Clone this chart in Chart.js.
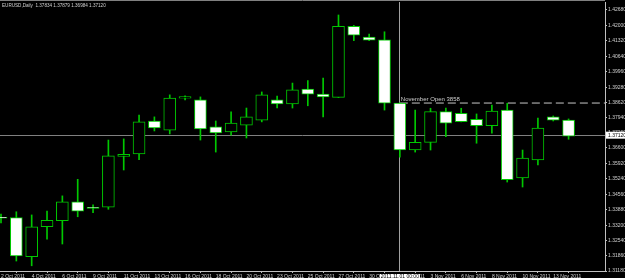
<!DOCTYPE html>
<html>
<head>
<meta charset="utf-8">
<script src="https://cdn.jsdelivr.net/npm/chart.js@4.4.0/dist/chart.umd.min.js"></script>
<style>
  html, body { margin: 0; padding: 0; background: #000; }
  #wrap { position: relative; width: 625px; height: 278px; }
</style>
</head>
<body>
<div id="wrap"><canvas id="chart"></canvas></div>
<script>
// EURUSD daily candles
const title = 'EURUSD,Daily  1.37834 1.37879 1.36984 1.37120';

const dates = [
    '2 Oct 2011', '3 Oct 2011', '4 Oct 2011', '5 Oct 2011', '6 Oct 2011', '7 Oct 2011',
    '9 Oct 2011', '10 Oct 2011', '11 Oct 2011', '12 Oct 2011', '13 Oct 2011', '14 Oct 2011',
    '16 Oct 2011', '17 Oct 2011', '18 Oct 2011', '19 Oct 2011', '20 Oct 2011', '21 Oct 2011',
    '23 Oct 2011', '24 Oct 2011', '25 Oct 2011', '26 Oct 2011', '27 Oct 2011', '28 Oct 2011',
    '30 Oct 2011', '31 Oct 2011', '1 Nov 2011', '2 Nov 2011', '3 Nov 2011', '4 Nov 2011',
    '6 Nov 2011', '7 Nov 2011', '8 Nov 2011', '9 Nov 2011', '10 Nov 2011', '11 Nov 2011',
    '13 Nov 2011', '14 Nov 2011'
];
const opens = [
    1.3355, 1.3353, 1.3181, 1.3313, 1.3340, 1.3423,
    1.3399, 1.3399, 1.3623, 1.3634, 1.3779, 1.3739,
    1.3880, 1.3872, 1.3753, 1.3731, 1.3761, 1.3783,
    1.3872, 1.3854, 1.3920, 1.3897, 1.3883, 1.4196,
    1.4149, 1.4136, 1.3858, 1.3651, 1.3685, 1.3820,
    1.3813, 1.3786, 1.3758, 1.3827, 1.3528, 1.3607,
    1.3797, 1.37834
];
const highs = [
    1.3369, 1.3379, 1.3365, 1.3382, 1.3449, 1.3522,
    1.3409, 1.3695, 1.3700, 1.3805, 1.3797, 1.3894,
    1.3890, 1.3885, 1.3779, 1.3819, 1.3836, 1.3907,
    1.3889, 1.3946, 1.3957, 1.3968, 1.4246, 1.4200,
    1.4162, 1.4172, 1.3859, 1.3827, 1.3835, 1.3836,
    1.3835, 1.3810, 1.3849, 1.3857, 1.3651, 1.3792,
    1.3801, 1.37879
];
const lows = [
    1.3330, 1.3162, 1.3141, 1.3258, 1.3237, 1.3357,
    1.3375, 1.3390, 1.3563, 1.3608, 1.3735, 1.3722,
    1.3872, 1.3695, 1.3642, 1.3717, 1.3704, 1.3775,
    1.3836, 1.3836, 1.3846, 1.3797, 1.3882, 1.4133,
    1.4133, 1.3827, 1.3620, 1.3642, 1.3651, 1.3710,
    1.3775, 1.3681, 1.3725, 1.3510, 1.3488, 1.3585,
    1.3779, 1.36984
];
const closes = [
    1.3351, 1.3184, 1.3313, 1.3341, 1.3423, 1.3382,
    1.3394, 1.3625, 1.3632, 1.3775, 1.3748, 1.3880,
    1.3886, 1.3744, 1.3726, 1.3770, 1.3797, 1.3894,
    1.3854, 1.3916, 1.3897, 1.3885, 1.4196, 1.4157,
    1.4135, 1.3857, 1.3651, 1.3685, 1.3820, 1.3769,
    1.3776, 1.3758, 1.3823, 1.3520, 1.3616, 1.3748,
    1.3783, 1.37120
];

const priceTicks = [
    1.42680, 1.42000, 1.41320, 1.40640, 1.39960, 1.39280, 1.38620, 1.37940, 1.37260,
    1.36600, 1.35920, 1.35240, 1.34560, 1.33880, 1.33200, 1.32540, 1.31860, 1.31180
];

const novOpen = 1.3858;
const novOpenLabel = 'November Open 3858';
const crossIndex = 26;
const crossLabel = '2011.11.01 00:00';

const green = '#00c800';
const axisGrey = '#c0c0c0';
const textGrey = '#d0d0d0';
const tinyFont = { family: 'Liberation Sans', size: 5 };

const bodies = dates.map((d, i) => ({ x: i, y: [opens[i], closes[i]] }));
const wicks = dates.map((d, i) => ({ x: i, y: [lows[i], highs[i]] }));
const lastClose = closes[closes.length - 1];

// extra drawing MT4 puts on top: header, bid line, crosshair, object label
const overlay = {
    id: 'overlay',
    beforeDatasetsDraw(chart) {
        const { ctx, chartArea: a, scales: { x, y } } = chart;
        ctx.save();
        ctx.lineWidth = 1;
        ctx.strokeStyle = '#808080';
        ctx.beginPath();
        ctx.moveTo(0, 0.5);
        ctx.lineTo(a.right, 0.5);
        const by = Math.round(y.getPixelForValue(lastClose)) - 0.5;
        ctx.moveTo(a.left, by);
        ctx.lineTo(a.right, by);
        ctx.stroke();
        ctx.strokeStyle = '#a0a0a0';
        const cx = Math.round(x.getPixelForValue(crossIndex)) - 0.5;
        ctx.beginPath();
        ctx.moveTo(cx, a.top);
        ctx.lineTo(cx, a.bottom);
        ctx.stroke();
        ctx.restore();
    },
    afterDraw(chart) {
        const { ctx, chartArea: a, scales: { x, y } } = chart;
        ctx.save();
        ctx.fillStyle = textGrey;
        ctx.font = '4.6px "Liberation Sans"';
        ctx.textBaseline = 'top';
        ctx.fillText(title, 2, 3.5);

        const cx = x.getPixelForValue(crossIndex);
        ctx.font = '6px "Liberation Sans"';
        ctx.textBaseline = 'alphabetic';
        ctx.fillStyle = textGrey;
        ctx.fillText(novOpenLabel, cx + 1, y.getPixelForValue(novOpen) - 2.5);

        // price marker on the axis
        ctx.font = '5px "Liberation Sans"';
        const py = y.getPixelForValue(lastClose) - 1;
        ctx.fillStyle = '#fff';
        ctx.fillRect(a.right + 1, py - 3.5, 19, 7);
        ctx.fillStyle = '#000';
        ctx.textBaseline = 'middle';
        ctx.fillText(lastClose.toFixed(5), a.right + 3, py);

        // crosshair time marker
        const w = ctx.measureText(crossLabel).width + 2;
        ctx.fillStyle = '#fff';
        ctx.fillRect(cx - w / 2, a.bottom + 3, w, 8);
        ctx.fillStyle = '#000';
        ctx.textBaseline = 'top';
        ctx.fillText(crossLabel, cx - w / 2 + 1, a.bottom + 3.5);
        ctx.restore();
    }
};

new Chart(document.getElementById('chart'), {
    type: 'bar',
    data: {
        datasets: [
            {
                label: 'body',
                data: bodies,
                grouped: false,
                order: 0,
                barThickness: 12,
                borderWidth: 1,
                borderSkipped: false,
                borderColor: green,
                backgroundColor: (c) => closes[c.dataIndex] >= opens[c.dataIndex] ? '#000' : '#fff'
            },
            {
                label: 'wick',
                data: wicks,
                grouped: false,
                order: 1,
                barThickness: 1,
                borderWidth: 0,
                backgroundColor: green
            },
            {
                type: 'line',
                label: 'nov open',
                data: [{ x: crossIndex, y: novOpen }, { x: 40, y: novOpen }],
                order: 2,
                borderColor: '#c8c8c8',
                borderWidth: 1,
                borderDash: [8, 4],
                pointRadius: 0
            }
        ]
    },
    plugins: [overlay],
    options: {
        responsive: true,
        maintainAspectRatio: false,
        animation: false,
        layout: { padding: { top: 2, left: 0, right: 0, bottom: 0 } },
        plugins: { legend: { display: false }, tooltip: { enabled: false } },
        scales: {
            x: {
                type: 'linear',
                min: -0.0652,
                max: 39.374,
                offset: false,
                grid: { drawOnChartArea: false, tickLength: 2, color: axisGrey },
                border: { color: axisGrey },
                afterBuildTicks: (s) => {
                    s.ticks = dates.map((d, i) => ({ value: i })).filter((t) => t.value % 2 === 0);
                },
                afterFit: (s) => {
                    s.height = 7;
                    s.paddingLeft = 0;
                    s.paddingRight = 0;
                },
                ticks: {
                    autoSkip: false,
                    maxRotation: 0,
                    align: 'start',
                    padding: 1,
                    color: textGrey,
                    font: tinyFont,
                    callback: (v) => dates[v]
                }
            },
            y: {
                position: 'right',
                min: 1.3118,
                max: 1.43032,
                grid: { drawOnChartArea: false, tickLength: 2, color: axisGrey },
                border: { color: axisGrey },
                afterBuildTicks: (s) => {
                    s.ticks = priceTicks.map((v) => ({ value: v }));
                },
                afterFit: (s) => {
                    s.width = 20;
                    s.paddingTop = 0;
                    s.paddingBottom = 0;
                },
                ticks: {
                    padding: 1,
                    color: textGrey,
                    font: tinyFont,
                    callback: (v) => v.toFixed(5)
                }
            }
        }
    }
});
</script>
</body>
</html>
